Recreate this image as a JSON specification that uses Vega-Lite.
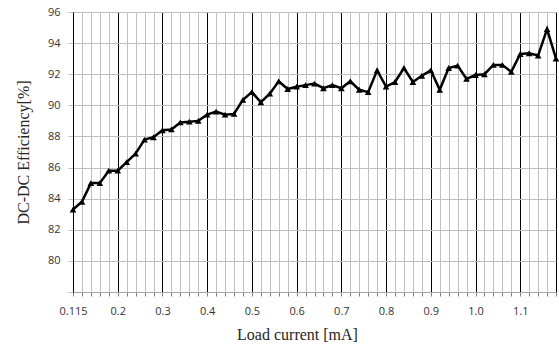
{
  "$schema": "https://vega.github.io/schema/vega-lite/v6.json",
  "autosize": {"type": "none"},
  "padding": {"left": 73, "top": 12, "right": 3, "bottom": 52},
  "width": 483,
  "height": 280,
  "background": "white",
  "config": {"view": {"stroke": null}},
  "data": {
    "values": [
      {"current": "0.115", "eff": 83.3},
      {"current": "0.12", "eff": 83.8},
      {"current": "0.14", "eff": 85.0},
      {"current": "0.16", "eff": 85.0},
      {"current": "0.18", "eff": 85.8},
      {"current": "0.2", "eff": 85.8},
      {"current": "0.22", "eff": 86.35},
      {"current": "0.24", "eff": 86.9},
      {"current": "0.26", "eff": 87.8},
      {"current": "0.28", "eff": 87.95},
      {"current": "0.3", "eff": 88.4},
      {"current": "0.32", "eff": 88.45},
      {"current": "0.34", "eff": 88.9},
      {"current": "0.36", "eff": 88.95},
      {"current": "0.38", "eff": 89.0},
      {"current": "0.4", "eff": 89.4},
      {"current": "0.42", "eff": 89.6},
      {"current": "0.44", "eff": 89.4},
      {"current": "0.46", "eff": 89.45},
      {"current": "0.48", "eff": 90.35},
      {"current": "0.5", "eff": 90.85},
      {"current": "0.52", "eff": 90.2},
      {"current": "0.54", "eff": 90.75},
      {"current": "0.56", "eff": 91.55},
      {"current": "0.58", "eff": 91.05},
      {"current": "0.6", "eff": 91.2},
      {"current": "0.62", "eff": 91.3},
      {"current": "0.64", "eff": 91.4},
      {"current": "0.66", "eff": 91.1},
      {"current": "0.68", "eff": 91.3},
      {"current": "0.7", "eff": 91.1},
      {"current": "0.72", "eff": 91.55},
      {"current": "0.74", "eff": 91.0},
      {"current": "0.76", "eff": 90.85},
      {"current": "0.78", "eff": 92.25},
      {"current": "0.8", "eff": 91.2},
      {"current": "0.82", "eff": 91.5},
      {"current": "0.84", "eff": 92.4},
      {"current": "0.86", "eff": 91.5},
      {"current": "0.88", "eff": 91.9},
      {"current": "0.9", "eff": 92.25},
      {"current": "0.92", "eff": 91.0},
      {"current": "0.94", "eff": 92.4},
      {"current": "0.96", "eff": 92.55},
      {"current": "0.98", "eff": 91.7},
      {"current": "1.0", "eff": 91.95},
      {"current": "1.02", "eff": 92.0},
      {"current": "1.04", "eff": 92.6},
      {"current": "1.06", "eff": 92.6},
      {"current": "1.08", "eff": 92.15},
      {"current": "1.1", "eff": 93.3},
      {"current": "1.12", "eff": 93.35},
      {"current": "1.14", "eff": 93.2},
      {"current": "1.16", "eff": 94.9},
      {"current": "1.18", "eff": 93.0}
    ]
  },
  "mark": {
    "type": "line",
    "color": "black",
    "strokeWidth": 2.5,
    "point": {"shape": "triangle-up", "size": 45, "filled": true, "color": "black"}
  },
  "encoding": {
    "x": {
      "field": "current",
      "type": "ordinal",
      "sort": null,
      "scale": {"type": "point", "padding": 0},
      "axis": {
        "title": "Load current [mA]",
        "titleFont": "Liberation Serif",
        "titleFontSize": 16,
        "titleFontWeight": "normal",
        "titleColor": "#262626",
        "titlePadding": 10,
        "titleX": 224,
        "labelAngle": 0,
        "labelFont": "Open Sans",
        "labelFontSize": 11,
        "labelColor": "#333333",
        "labelPadding": 9,
        "labelOverlap": false,
        "labelExpr": "indexof(['0.115','0.2','0.3','0.4','0.5','0.6','0.7','0.8','0.9','1.0','1.1'], datum.value) >= 0 ? datum.label : ''",
        "tickSize": 4,
        "tickColor": "#808080",
        "domainColor": "#a6a6a6",
        "grid": true,
        "gridColor": {
          "condition": {
            "test": "indexof(['0.115','0.2','0.3','0.4','0.5','0.6','0.7','0.8','0.9','1.0','1.1','1.18'], datum.value) >= 0",
            "value": "#000000"
          },
          "value": "#c0c0c0"
        },
        "gridWidth": 1,
        "gridOpacity": 1
      }
    },
    "y": {
      "field": "eff",
      "type": "quantitative",
      "scale": {"domain": [78, 96], "nice": false, "zero": false},
      "axis": {
        "title": "DC-DC Efficiency[%]",
        "titleFont": "Liberation Serif",
        "titleFontSize": 16,
        "titleFontWeight": "normal",
        "titleColor": "#262626",
        "titlePadding": 16,
        "values": [78, 80, 82, 84, 86, 88, 90, 92, 94, 96],
        "labelExpr": "datum.value == 78 ? '' : datum.label",
        "labelFont": "Open Sans",
        "labelFontSize": 11,
        "labelColor": "#333333",
        "labelPadding": 8,
        "tickSize": 5,
        "tickColor": "#bfbfbf",
        "domainColor": "#000000",
        "grid": true,
        "gridColor": "#bfbfbf",
        "gridOpacity": 1
      }
    }
  }
}
